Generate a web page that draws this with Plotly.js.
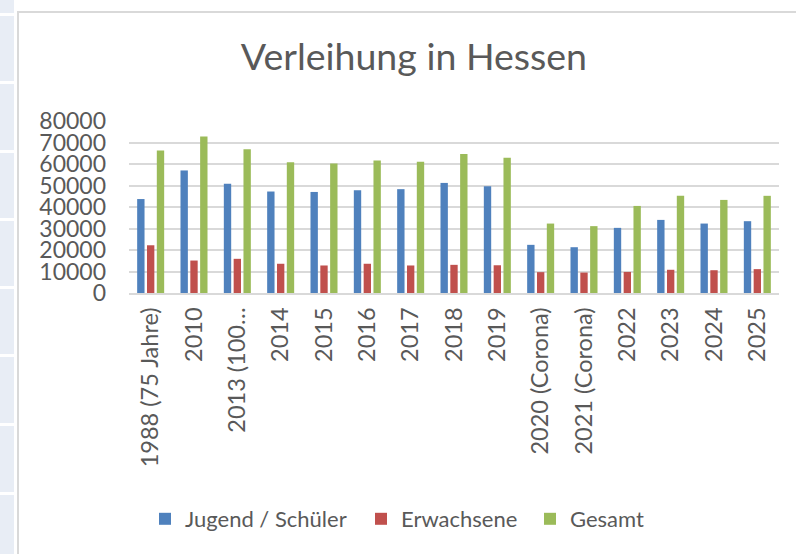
<!DOCTYPE html>
<html>
<head>
<meta charset="utf-8">
<script src="https://cdn.plot.ly/plotly-3.0.1.min.js"></script>
<style>
  html, body { margin:0; padding:0; width:796px; height:554px; overflow:hidden; background:#ffffff; }
  #strip { position:absolute; left:0; top:0; width:14px; height:554px; }
  .cell { position:absolute; left:0; width:14px; background:#E8EDF5; }
  #frame { position:absolute; left:17px; top:11px; width:800px; height:560px; border-left:2px solid #D9D9D9; border-top:2px solid #D9D9D9; }
  #chart { position:absolute; left:0; top:0; width:796px; height:554px; }
</style>
</head>
<body>
<div id="strip"></div>
<div id="frame"></div>
<div id="chart"></div>
<script>
const categories = ["1988 (75 Jahre)", "2010", "2013 (100…", "2014", "2015", "2016", "2017", "2018", "2019", "2020 (Corona)", "2021 (Corona)", "2022", "2023", "2024", "2025"];
const jugend     = [43700, 57000, 50800, 47200, 47000, 47800, 48300, 51200, 49700, 22400, 21300, 30300, 34000, 32300, 33400];
const erwachsene = [22200, 15100, 15900, 13600, 12800, 13600, 12800, 13100, 12900,  9700,  9500,  9800, 10800, 10600, 11100];
const gesamt     = [66300, 72800, 66900, 60800, 60200, 61600, 61100, 64700, 62900, 32300, 31100, 40500, 45200, 43300, 45200];
const seriesNames = ["Jugend / Schüler", "Erwachsene", "Gesamt"];
const yTicks = [0, 10000, 20000, 30000, 40000, 50000, 60000, 70000, 80000];

// spreadsheet cells on the left edge
const strip = document.getElementById('strip');
const sepTops = [-60, 13, 81, 150, 218, 286, 354, 423, 492, 560];
for (let i = 0; i < sepTops.length - 1; i++) {
  const d = document.createElement('div');
  d.className = 'cell';
  d.style.top = (sepTops[i] + 3) + 'px';
  d.style.height = (sepTops[i + 1] - sepTops[i] - 3) + 'px';
  strip.appendChild(d);
}

const font = "Lato, 'Open Sans', sans-serif";
const grey = "#595959";
const colors = ["#4F81BD", "#C0504D", "#9BBB59"];
const values = [jugend, erwachsene, gesamt];
const legendIds = ['legend', 'legend2', 'legend3'];
const legendX = [145, 361, 530];

const traces = values.map((v, i) => ({
  type: 'bar',
  name: seriesNames[i],
  x: categories,
  y: v,
  legend: legendIds[i],
  marker: { color: colors[i], line: { width: 0 } },
  hoverinfo: 'skip'
}));

const legendBase = (px) => ({
  orientation: 'h',
  xref: 'container', yref: 'container',
  x: px / 796, xanchor: 'left',
  y: 1 - 519 / 554, yanchor: 'middle',
  font: { family: font, size: 22, color: grey },
  bgcolor: 'rgba(0,0,0,0)',
  itemclick: false
});

const layout = {
  width: 796,
  height: 554,
  margin: { l: 129, r: 17, t: 121, b: 261, pad: 0 },
  paper_bgcolor: 'rgba(0,0,0,0)',
  plot_bgcolor: 'rgba(0,0,0,0)',
  barmode: 'group',
  bargap: 0.32,
  bargroupgap: 0.25,
  title: {
    text: "Verleihung in Hessen",
    font: { family: font, size: 37.5, color: grey },
    x: 0.52, xanchor: 'center',
    y: 0.897, yanchor: 'middle', yref: 'container'
  },
  xaxis: {
    type: 'category',
    tickangle: -90,
    tickfont: { family: font, size: 23.5, color: grey },
    ticks: '',
    ticklabelstandoff: 3,
    showline: true,
    linecolor: '#D9D9D9',
    linewidth: 2,
    showgrid: false,
    zeroline: false,
    fixedrange: true
  },
  yaxis: {
    range: [0, 80000],
    tickvals: yTicks,
    ticktext: yTicks.map(String),
    tickfont: { family: font, size: 23, color: grey },
    ticks: '',
    ticklabelstandoff: 22,
    showgrid: true,
    gridcolor: '#D9D9D9',
    gridwidth: 2,
    zeroline: false,
    showline: false,
    fixedrange: true
  },
  showlegend: true,
  legend: legendBase(legendX[0]),
  legend2: legendBase(legendX[1]),
  legend3: legendBase(legendX[2])
};

Plotly.newPlot('chart', traces, layout, { staticPlot: true, displayModeBar: false });
</script>
</body>
</html>
